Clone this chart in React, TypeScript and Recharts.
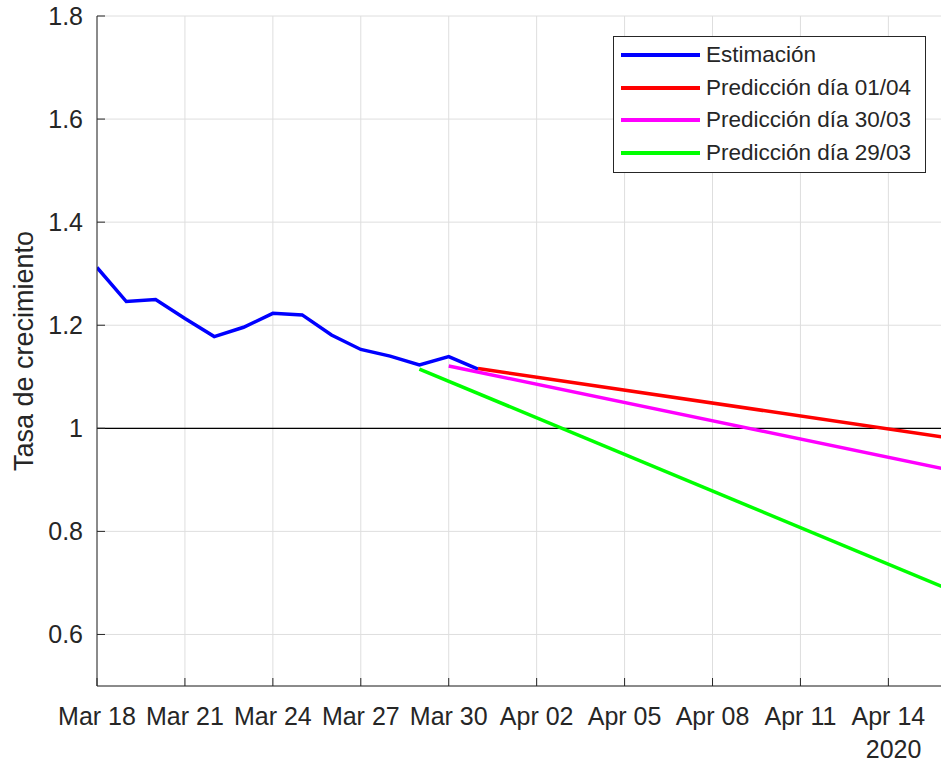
import React from 'react';
import { LineChart, Line, XAxis, YAxis, CartesianGrid, ReferenceLine, Legend } from 'recharts';

// dias contados desde el 18 de marzo de 2020
const estDays = [0, 1, 2, 3, 4, 5, 6, 7, 8, 9, 10, 11, 12, 13];
const estValues = [1.312, 1.246, 1.25, 1.213, 1.178, 1.196, 1.223, 1.22, 1.181, 1.153, 1.14, 1.123, 1.139, 1.115];

const pred0104Days = [13, 29];
const pred0104Values = [1.116, 0.982];
const pred3003Days = [12, 29];
const pred3003Values = [1.121, 0.92];
const pred2903Days = [11, 29];
const pred2903Values = [1.115, 0.689];

const seriesNames = ['Estimación', 'Predicción día 01/04', 'Predicción día 30/03', 'Predicción día 29/03'];

const xTickDays = [0, 3, 6, 9, 12, 15, 18, 21, 24, 27];
const xTickLabels = ['Mar 18', 'Mar 21', 'Mar 24', 'Mar 27', 'Mar 30', 'Apr 02', 'Apr 05', 'Apr 08', 'Apr 11', 'Apr 14'];
const yTicks = [0.6, 0.8, 1, 1.2, 1.4, 1.6, 1.8];
const yearLabel = '2020';

const toRows = (days: number[], vals: number[]) => days.map((d, i) => ({ d, v: vals[i] }));

const FONT = '"Liberation Sans", Arial, sans-serif';
const INK = '#262626';
const TICK = 8;
const LW = 3.5;

const BottomTick = (props: any) => {
  const { x, y, payload, index } = props;
  const label = xTickLabels[xTickDays.indexOf(payload.value)] ?? '';
  return (
    <g>
      <line x1={x} y1={y} x2={x} y2={y - TICK} stroke={INK} strokeWidth={1} />
      <text x={x} y={y + 39} textAnchor="middle" fontSize={25} fill={INK} fontFamily={FONT}>{label}</text>
      {index === xTickDays.length - 1 && (
        <text x={x + 33} y={y + 72} textAnchor="end" fontSize={25} fill={INK} fontFamily={FONT}>{yearLabel}</text>
      )}
    </g>
  );
};

const TopTick = (props: any) => {
  const { x, y } = props;
  return <line x1={x} y1={y} x2={x} y2={y + TICK} stroke={INK} strokeWidth={1} />;
};

const LeftTick = (props: any) => {
  const { x, y, payload } = props;
  return (
    <g>
      <line x1={x} y1={y} x2={x + TICK} y2={y} stroke={INK} strokeWidth={1} />
      <text x={x - 14} y={y} dy={9} textAnchor="end" fontSize={25} fill={INK} fontFamily={FONT}>{String(payload.value)}</text>
    </g>
  );
};

const RightTick = (props: any) => {
  const { x, y } = props;
  return <line x1={x} y1={y} x2={x - TICK} y2={y} stroke={INK} strokeWidth={1} />;
};

const renderLegend = (props: any) => {
  const items = [...(props.payload || [])].sort(
    (a: any, b: any) => seriesNames.indexOf(a.value) - seriesNames.indexOf(b.value)
  );
  return (
    <div style={{ width: 311, height: 133, border: `1px solid ${INK}`, background: '#fff', paddingTop: 2, boxSizing: 'content-box' }}>
      {items.map((p: any) => (
        <div key={p.value} style={{ display: 'flex', alignItems: 'center', height: 32.6 }}>
          <div style={{ marginLeft: 7, width: 79, height: 4, background: p.color }} />
          <span style={{ marginLeft: 6, fontSize: 22.5, color: INK, fontFamily: FONT, whiteSpace: 'nowrap' }}>{p.value}</span>
        </div>
      ))}
    </div>
  );
};

const yLabel = (props: any) => {
  const vb = props.viewBox;
  const cy = vb.y + vb.height / 2;
  return (
    <text x={33} y={cy} transform={`rotate(-90, 33, ${cy})`} textAnchor="middle" fontSize={27} fill={INK} fontFamily={FONT}>
      Tasa de crecimiento
    </text>
  );
};

export default function App() {
  return (
    <div style={{ position: 'fixed', left: 0, top: 0, width: 941, height: 763, overflow: 'hidden', background: '#fff' }}>
      <LineChart width={960} height={763} margin={{ top: 16, right: 13, bottom: 0, left: 0 }}>
        <CartesianGrid xAxisId="b" yAxisId="l" stroke="#dedede" strokeWidth={1} />
        <XAxis xAxisId="b" type="number" dataKey="d" domain={[0, 29]} ticks={xTickDays} allowDataOverflow
          height={77} axisLine={{ stroke: INK }} tickLine={false} tickSize={0} tickMargin={0} tick={<BottomTick />} interval={0} />
        <XAxis xAxisId="t" orientation="top" type="number" dataKey="d" domain={[0, 29]} ticks={xTickDays} allowDataOverflow
          height={0} axisLine={{ stroke: INK }} tickLine={false} tickSize={0} tickMargin={0} tick={<TopTick />} interval={0} />
        <YAxis yAxisId="l" type="number" domain={[0.5, 1.8]} ticks={yTicks} allowDataOverflow width={97}
          axisLine={{ stroke: INK }} tickLine={false} tickSize={0} tickMargin={0} tick={<LeftTick />} interval={0}
          label={{ content: yLabel }} />
        <YAxis yAxisId="r" orientation="right" type="number" domain={[0.5, 1.8]} ticks={yTicks} allowDataOverflow width={0}
          axisLine={{ stroke: INK }} tickLine={false} tickSize={0} tickMargin={0} tick={<RightTick />} interval={0} />
        <ReferenceLine xAxisId="b" yAxisId="l" y={1} stroke="#000" strokeWidth={1.3} />
        <Line xAxisId="b" yAxisId="l" data={toRows(estDays, estValues)} dataKey="v" name={seriesNames[0]} stroke="#0000ff" strokeWidth={LW} dot={false} isAnimationActive={false} />
        <Line xAxisId="b" yAxisId="l" data={toRows(pred0104Days, pred0104Values)} dataKey="v" name={seriesNames[1]} stroke="#ff0000" strokeWidth={LW} dot={false} isAnimationActive={false} />
        <Line xAxisId="b" yAxisId="l" data={toRows(pred3003Days, pred3003Values)} dataKey="v" name={seriesNames[2]} stroke="#ff00ff" strokeWidth={LW} dot={false} isAnimationActive={false} />
        <Line xAxisId="b" yAxisId="l" data={toRows(pred2903Days, pred2903Values)} dataKey="v" name={seriesNames[3]} stroke="#00ff00" strokeWidth={LW} dot={false} isAnimationActive={false} />
        <Legend layout="vertical" align="center" verticalAlign="middle" content={renderLegend}
          wrapperStyle={{ left: 613, top: 36, width: 'auto', height: 'auto' }} />
      </LineChart>
    </div>
  );
}
